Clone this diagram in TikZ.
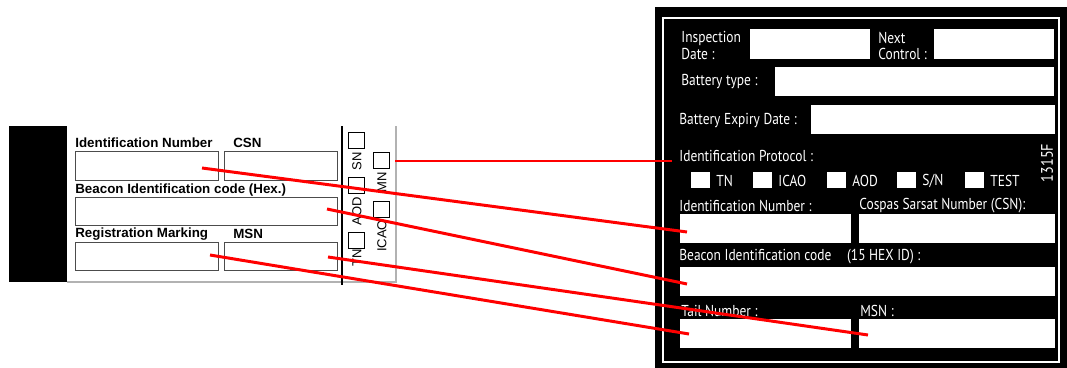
\documentclass[tikz,border=0pt]{standalone}
\usepackage{fontspec}
\newfontfamily\tagfont{Liberation Sans}
\newfontfamily\platefont[FakeStretch=0.85]{PT Sans}
\begin{document}
\begin{tikzpicture}[x=0.02cm, y=-0.02cm,
    field/.style={rectangle, draw=black!70, line width=0.6pt, anchor=north west, inner sep=0pt},
    tick/.style={rectangle, draw=black, line width=0.5pt, anchor=north west, inner sep=0pt, minimum width=0.32cm, minimum height=0.32cm},
    tlbl/.style={font=\tagfont\bfseries\fontsize{7.6}{8}\selectfont, anchor=west, inner sep=0pt},
    rlbl/.style={font=\tagfont\fontsize{7.4}{8}\selectfont, rotate=90, inner sep=0pt},
    plbl/.style={font=\platefont\fontsize{9}{9}\selectfont, text=white, anchor=west, inner sep=0pt},
    wbox/.style={rectangle, fill=white, anchor=north west, inner sep=0pt},
    wtick/.style={wbox, minimum width=0.37cm, minimum height=0.32cm},
    link/.style={draw=red, line width=1.7pt}
]
    \useasboundingbox (0,0) rectangle (1067,368);
    % small tag on the left
    \fill[black] (9,126) rectangle (67,282);
    \draw[black!30, line width=0.6pt] (67,282) -- (396,282) -- (396,126);
    \draw[line width=1.1pt] (342,126) -- (342,285);
    \node[tlbl] (tidn) at (75,143) {Identification Number};
    \node[tlbl] (tcsn) at (233,143) {CSN};
    \node[field, minimum width=2.86cm, minimum height=0.58cm] (idnL) at (75,151) {};
    \node[field, minimum width=2.26cm, minimum height=0.58cm] (csnL) at (224,151) {};
    \node[tlbl] (thex) at (75,190) {Beacon Identification code (Hex.)};
    \node[field, minimum width=5.24cm, minimum height=0.56cm] (hexL) at (75,197) {};
    \node[tlbl] (treg) at (75,234) {Registration Marking};
    \node[tlbl] (tmsn) at (233,234) {MSN};
    \node[field, minimum width=2.86cm, minimum height=0.56cm] (regL) at (75,242) {};
    \node[field, minimum width=2.26cm, minimum height=0.56cm] (msnL) at (224,242) {};
    % protocol ticks, turned
    \foreach \nm/\x/\y/\ly/\txt in {sn/348/132/161/SN, aod/348/177/211/AOD, tn/348/232/258/TN, mn/373/152/182/MN, icao/373/201/236/ICAO} {
        \node[tick] (\nm L) at (\x,\y) {};
        \node[rlbl] (\nm T) at (\x+9,\ly) {\txt};
    }
    % plate on the right
    \fill[black] (655,7) rectangle (1067,368);
    \draw[white, line width=0.9pt] (663,18) rectangle (1059,362);
    \node[plbl] (pins) at (681,38) {Inspection};
    \node[plbl] (pdate) at (681,54) {Date :};
    \node[wbox, minimum width=2.4cm, minimum height=0.6cm] (insR) at (750,29) {};
    \node[plbl] (pnext) at (878,38) {Next};
    \node[plbl] (pctl) at (878,54) {Control :};
    \node[wbox, minimum width=2.4cm, minimum height=0.6cm] (nextR) at (934,29) {};
    \node[plbl] (pbat) at (681,82) {Battery type :};
    \node[wbox, minimum width=5.58cm, minimum height=0.58cm] (batR) at (775,67) {};
    \node[plbl] (pexp) at (679,121) {Battery Expiry Date :};
    \node[wbox, minimum width=4.88cm, minimum height=0.58cm] (expR) at (811,105) {};
    \node[plbl] (pprot) at (679,156) {Identification Protocol :};
    \node[plbl, anchor=center, rotate=90, font=\platefont\fontsize{9.5}{9.5}\selectfont] (pser) at (1047,163) {1315F};
    \foreach \nm/\x/\txt in {tn/691/TN, icao/753/ICAO, aod/827/AOD, sn/897/{S/N}, test/965/TEST} {
        \node[wtick] (\nm R) at (\x,172) {};
        \node[plbl] (\nm P) at (\x+25,181) {\txt};
    }
    \node[plbl] (pidn) at (679,206) {Identification Number :};
    \node[plbl] (pcsn) at (859,206) {Cospas Sarsat Number (CSN):};
    \node[wbox, minimum width=3.42cm, minimum height=0.58cm] (idnR) at (680,214) {};
    \node[wbox, minimum width=3.92cm, minimum height=0.58cm] (csnR) at (859,214) {};
    \node[plbl] (phex) at (679,257) {Beacon Identification code\quad(15 HEX ID) :};
    \node[wbox, minimum width=7.5cm, minimum height=0.58cm] (hexR) at (680,267) {};
    \node[plbl] (ptail) at (681,311) {Tail Number :};
    \node[plbl] (pmsn) at (860,311) {MSN :};
    \node[wbox, minimum width=3.42cm, minimum height=0.58cm] (tailR) at (680,319) {};
    \node[wbox, minimum width=3.92cm, minimum height=0.58cm] (msnR) at (859,319) {};
    % red links
    \coordinate (protA) at (395,161);
    \coordinate (protB) at (672,161);
    \coordinate (idnA) at (202,168);
    \coordinate (idnB) at (687,232);
    \coordinate (hexA) at (327,209);
    \coordinate (hexB) at (687,284);
    \coordinate (regA) at (210,255);
    \coordinate (regB) at (689,334);
    \coordinate (msnA) at (328,257);
    \coordinate (msnB) at (868,335);
    \foreach \a/\b in {protA/protB, idnA/idnB, hexA/hexB, regA/regB, msnA/msnB}
        \draw[link] (\a) -- (\b);
\end{tikzpicture}
\end{document}
